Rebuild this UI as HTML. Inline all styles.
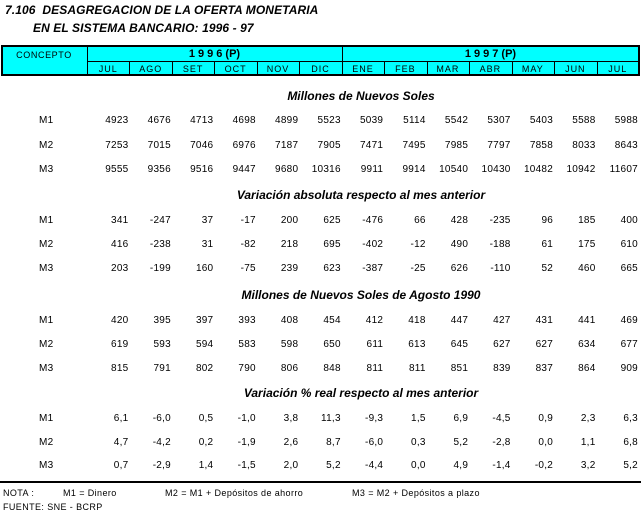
<!DOCTYPE html>
<html><head><meta charset="utf-8">
<style>
*{margin:0;padding:0;box-sizing:border-box}
html,body{width:641px;height:515px;background:#fff;overflow:hidden}
body{position:relative;font-family:"Liberation Sans",Arial,sans-serif;color:#000}
.a{position:absolute;white-space:nowrap}
.title{font-size:12px;font-weight:bold;font-style:italic;line-height:14px;letter-spacing:0.1px}
.box{position:absolute;left:1px;top:45px;width:639px;height:31px;border:2px solid #000;background:#00ffff}
.vl{position:absolute;width:1px;background:#000}
.hl{position:absolute;height:1px;background:#000}
.hdr{font-size:9px;line-height:11px;letter-spacing:0.6px}
.yr{font-size:11px;font-weight:bold;line-height:13px;text-align:center}
.mon{position:absolute;top:64px;font-size:9px;line-height:11px;letter-spacing:1px;text-align:center;width:42.46px}
.sec{position:absolute;left:161px;width:400px;text-align:center;font-size:12px;font-weight:bold;font-style:italic;line-height:14px}
.row{position:absolute;left:87px;width:552px;height:12px;display:grid;grid-template-columns:repeat(13,1fr);font-size:10px;line-height:12px;letter-spacing:0.25px}
.row span{text-align:right;padding-right:1px}
.lab{position:absolute;left:39px;font-size:10px;line-height:12px;letter-spacing:0.25px}
.note{font-size:9px;line-height:11px;letter-spacing:0.4px}
</style></head><body>

<div class="a title" style="left:5px;top:3px">7.106&nbsp; DESAGREGACION DE LA OFERTA MONETARIA</div>
<div class="a title" style="left:33px;top:21px">EN EL SISTEMA BANCARIO: 1996 - 97</div>

<div class="box"></div>
<div class="hl" style="left:87px;top:61px;width:552px"></div>
<div class="vl" style="left:87px;top:46px;height:29px"></div>
<div class="vl" style="left:342px;top:46px;height:29px"></div>
<div class="vl" style="left:129px;top:61px;height:14px"></div>
<div class="vl" style="left:172px;top:61px;height:14px"></div>
<div class="vl" style="left:214px;top:61px;height:14px"></div>
<div class="vl" style="left:257px;top:61px;height:14px"></div>
<div class="vl" style="left:299px;top:61px;height:14px"></div>
<div class="vl" style="left:384px;top:61px;height:14px"></div>
<div class="vl" style="left:427px;top:61px;height:14px"></div>
<div class="vl" style="left:469px;top:61px;height:14px"></div>
<div class="vl" style="left:512px;top:61px;height:14px"></div>
<div class="vl" style="left:554px;top:61px;height:14px"></div>
<div class="vl" style="left:597px;top:61px;height:14px"></div>

<div class="a hdr" style="left:1px;width:86px;top:50px;text-align:center">CONCEPTO</div>
<div class="a yr" style="left:87px;width:255px;top:48px"><span style="letter-spacing:3px">1996</span>(P)</div>
<div class="a yr" style="left:342px;width:297px;top:48px"><span style="letter-spacing:3px">1997</span>(P)</div>

<div class="mon" style="left:87px">JUL</div>
<div class="mon" style="left:129.5px">AGO</div>
<div class="mon" style="left:171.9px">SET</div>
<div class="mon" style="left:214.4px">OCT</div>
<div class="mon" style="left:256.8px">NOV</div>
<div class="mon" style="left:299.3px">DIC</div>
<div class="mon" style="left:341.8px">ENE</div>
<div class="mon" style="left:384.2px">FEB</div>
<div class="mon" style="left:426.7px">MAR</div>
<div class="mon" style="left:469.1px">ABR</div>
<div class="mon" style="left:511.6px">MAY</div>
<div class="mon" style="left:554.1px">JUN</div>
<div class="mon" style="left:596.5px">JUL</div>

<!-- Section 1 -->
<div class="sec" style="top:89px">Millones de Nuevos Soles</div>
<div class="lab" style="top:115px">M1</div>
<div class="row" style="top:115px"><span>4923</span><span>4676</span><span>4713</span><span>4698</span><span>4899</span><span>5523</span><span>5039</span><span>5114</span><span>5542</span><span>5307</span><span>5403</span><span>5588</span><span>5988</span></div>
<div class="lab" style="top:140px">M2</div>
<div class="row" style="top:140px"><span>7253</span><span>7015</span><span>7046</span><span>6976</span><span>7187</span><span>7905</span><span>7471</span><span>7495</span><span>7985</span><span>7797</span><span>7858</span><span>8033</span><span>8643</span></div>
<div class="lab" style="top:164px">M3</div>
<div class="row" style="top:164px"><span>9555</span><span>9356</span><span>9516</span><span>9447</span><span>9680</span><span>10316</span><span>9911</span><span>9914</span><span>10540</span><span>10430</span><span>10482</span><span>10942</span><span>11607</span></div>

<!-- Section 2 -->
<div class="sec" style="top:188px">Variación absoluta respecto al mes anterior</div>
<div class="lab" style="top:215px">M1</div>
<div class="row" style="top:215px"><span>341</span><span>-247</span><span>37</span><span>-17</span><span>200</span><span>625</span><span>-476</span><span>66</span><span>428</span><span>-235</span><span>96</span><span>185</span><span>400</span></div>
<div class="lab" style="top:239px">M2</div>
<div class="row" style="top:239px"><span>416</span><span>-238</span><span>31</span><span>-82</span><span>218</span><span>695</span><span>-402</span><span>-12</span><span>490</span><span>-188</span><span>61</span><span>175</span><span>610</span></div>
<div class="lab" style="top:263px">M3</div>
<div class="row" style="top:263px"><span>203</span><span>-199</span><span>160</span><span>-75</span><span>239</span><span>623</span><span>-387</span><span>-25</span><span>626</span><span>-110</span><span>52</span><span>460</span><span>665</span></div>

<!-- Section 3 -->
<div class="sec" style="top:288px">Millones de Nuevos Soles de Agosto 1990</div>
<div class="lab" style="top:315px">M1</div>
<div class="row" style="top:315px"><span>420</span><span>395</span><span>397</span><span>393</span><span>408</span><span>454</span><span>412</span><span>418</span><span>447</span><span>427</span><span>431</span><span>441</span><span>469</span></div>
<div class="lab" style="top:339px">M2</div>
<div class="row" style="top:339px"><span>619</span><span>593</span><span>594</span><span>583</span><span>598</span><span>650</span><span>611</span><span>613</span><span>645</span><span>627</span><span>627</span><span>634</span><span>677</span></div>
<div class="lab" style="top:363px">M3</div>
<div class="row" style="top:363px"><span>815</span><span>791</span><span>802</span><span>790</span><span>806</span><span>848</span><span>811</span><span>811</span><span>851</span><span>839</span><span>837</span><span>864</span><span>909</span></div>

<!-- Section 4 -->
<div class="sec" style="top:386px">Variación % real respecto al mes anterior</div>
<div class="lab" style="top:413px">M1</div>
<div class="row" style="top:413px"><span>6,1</span><span>-6,0</span><span>0,5</span><span>-1,0</span><span>3,8</span><span>11,3</span><span>-9,3</span><span>1,5</span><span>6,9</span><span>-4,5</span><span>0,9</span><span>2,3</span><span>6,3</span></div>
<div class="lab" style="top:437px">M2</div>
<div class="row" style="top:437px"><span>4,7</span><span>-4,2</span><span>0,2</span><span>-1,9</span><span>2,6</span><span>8,7</span><span>-6,0</span><span>0,3</span><span>5,2</span><span>-2,8</span><span>0,0</span><span>1,1</span><span>6,8</span></div>
<div class="lab" style="top:460px">M3</div>
<div class="row" style="top:460px"><span>0,7</span><span>-2,9</span><span>1,4</span><span>-1,5</span><span>2,0</span><span>5,2</span><span>-4,4</span><span>0,0</span><span>4,9</span><span>-1,4</span><span>-0,2</span><span>3,2</span><span>5,2</span></div>

<div class="hl" style="left:0;top:481px;width:641px;height:2px"></div>

<div class="a note" style="left:3px;top:488px">NOTA :</div>
<div class="a note" style="left:63px;top:488px">M1 = Dinero</div>
<div class="a note" style="left:165px;top:488px">M2 = M1 + Depósitos de ahorro</div>
<div class="a note" style="left:352px;top:488px">M3 = M2 + Depósitos a plazo</div>
<div class="a note" style="left:3px;top:502px">FUENTE: SNE - BCRP</div>

</body></html>
